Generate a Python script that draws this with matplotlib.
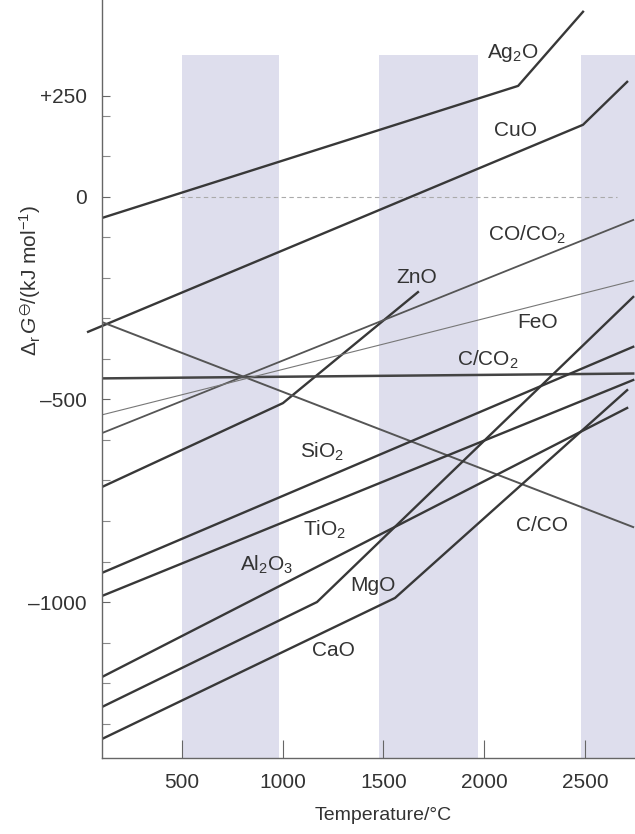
import matplotlib.pyplot as plt

plt.rcParams['font.family'] = ['Liberation Sans', 'DejaVu Sans']
plt.rcParams['mathtext.default'] = 'regular'
plt.rcParams['mathtext.fontset'] = 'custom'
plt.rcParams['mathtext.rm'] = 'Liberation Sans'
plt.rcParams['mathtext.it'] = 'Liberation Sans:italic'

# Ellingham-type lines, temperature in degC, dG in kJ/mol
ag2o_T = [104, 2169, 2491]
ag2o_G = [-52, 274, 457]
cuo_T = [35, 2491, 2710]
cuo_G = [-333, 178, 284]
zno_T = [104, 1002, 1672]
zno_G = [-716, -509, -235]
c_co2_T = [104, 2740]
c_co2_G = [-448, -436]
c_co_T = [104, 2740]
c_co_G = [-309, -815]
co_co2_T = [104, 2740]
co_co2_G = [-583, -57]
feo_T = [104, 1583, 2740]
feo_G = [-538, -353, -207]
sio2_T = [104, 2740]
sio2_G = [-928, -370]
tio2_T = [104, 2740]
tio2_G = [-985, -452]
al2o3_T = [104, 2710]
al2o3_G = [-1185, -521]
mgo_T = [104, 1171, 2740]
mgo_G = [-1259, -1000, -247]
cao_T = [104, 1558, 2710]
cao_G = [-1338, -990, -477]

# label text and where it sits (T, dG)
label_text = ['Ag$_2$O', 'CuO', 'CO/CO$_2$', 'ZnO', 'FeO', 'C/CO$_2$',
              'SiO$_2$', 'TiO$_2$', 'Al$_2$O$_3$', 'MgO', 'CaO', 'C/CO']
label_T = [2144, 2154, 2213, 1668, 2263, 2020, 1196, 1211, 923, 1449, 1251, 2288]
label_G = [355, 165, -94, -198, -311, -402, -630, -822, -909, -958, -1119, -810]

# shaded temperature bands
band_lo = [500, 1480, 2480]
band_hi = [980, 1970, 2780]

fig = plt.figure(figsize=(6.35, 8.34), dpi=100)
ax = fig.add_axes([102 / 635, 76 / 834, 533 / 635, 758 / 834])

for lo, hi in zip(band_lo, band_hi):
    ax.fill_between([lo, hi], -1400, 350, color='#dedeed', lw=0, zorder=0)

ax.plot([490, 2660], [0, 0], color='#aaaaaa', lw=0.8, ls=(0, (4, 3)), zorder=1)

dark = '#383838'
ax.plot(ag2o_T, ag2o_G, color=dark, lw=1.7)
ax.plot(cuo_T, cuo_G, color=dark, lw=1.7, clip_on=False)
ax.plot(zno_T, zno_G, color=dark, lw=1.7)
ax.plot(c_co2_T, c_co2_G, color='#444444', lw=1.8)
ax.plot(c_co_T, c_co_G, color='#555555', lw=1.4)
ax.plot(co_co2_T, co_co2_G, color='#555555', lw=1.3)
ax.plot(feo_T, feo_G, color='#777777', lw=0.8)
ax.plot(sio2_T, sio2_G, color=dark, lw=1.7)
ax.plot(tio2_T, tio2_G, color=dark, lw=1.7)
ax.plot(al2o3_T, al2o3_G, color=dark, lw=1.7)
ax.plot(mgo_T, mgo_G, color=dark, lw=1.7)
ax.plot(cao_T, cao_G, color=dark, lw=1.7)

for txt, t, g in zip(label_text, label_T, label_G):
    ax.text(t, g, txt, fontsize=15, color='#333333', ha='center', va='center')

ax.set_xlim(104, 2749)
ax.set_ylim(-1385, 486)

ax.spines['top'].set_visible(False)
ax.spines['right'].set_visible(False)
for s in ['left', 'bottom']:
    ax.spines[s].set_color('#666666')
    ax.spines[s].set_linewidth(1.0)

ax.set_xticks([500, 1000, 1500, 2000, 2500])
ax.set_xticklabels(['500', '1000', '1500', '2000', '2500'])
ax.tick_params(axis='x', direction='in', length=13, width=0.8, color='#666666',
               labelsize=15, labelcolor='#333333', pad=11)

ax.set_yticks([250, 0, -500, -1000])
ax.set_yticklabels(['+250', '0', '\u2013500', '\u20131000'])
ax.set_yticks(list(range(-1300, 300, 100)), minor=True)
ax.tick_params(axis='y', which='major', direction='in', length=6, width=0.8,
               color='#666666', labelsize=15, labelcolor='#333333', pad=11)
ax.tick_params(axis='y', which='minor', direction='in', length=6, width=0.8,
               color='#888888')

fig.text(383 / 635, 1 - 815 / 834, 'Temperature/\u00b0C', fontsize=14,
         color='#333333', ha='center', va='center')
fig.text(30 / 635, 1 - 281 / 834, r'$\Delta_r\,\mathit{G}^{\ominus}$/(kJ mol$^{-1}$)',
         fontsize=15, color='#333333', ha='center', va='center', rotation=90)

fig.savefig('out.png', dpi=100)
